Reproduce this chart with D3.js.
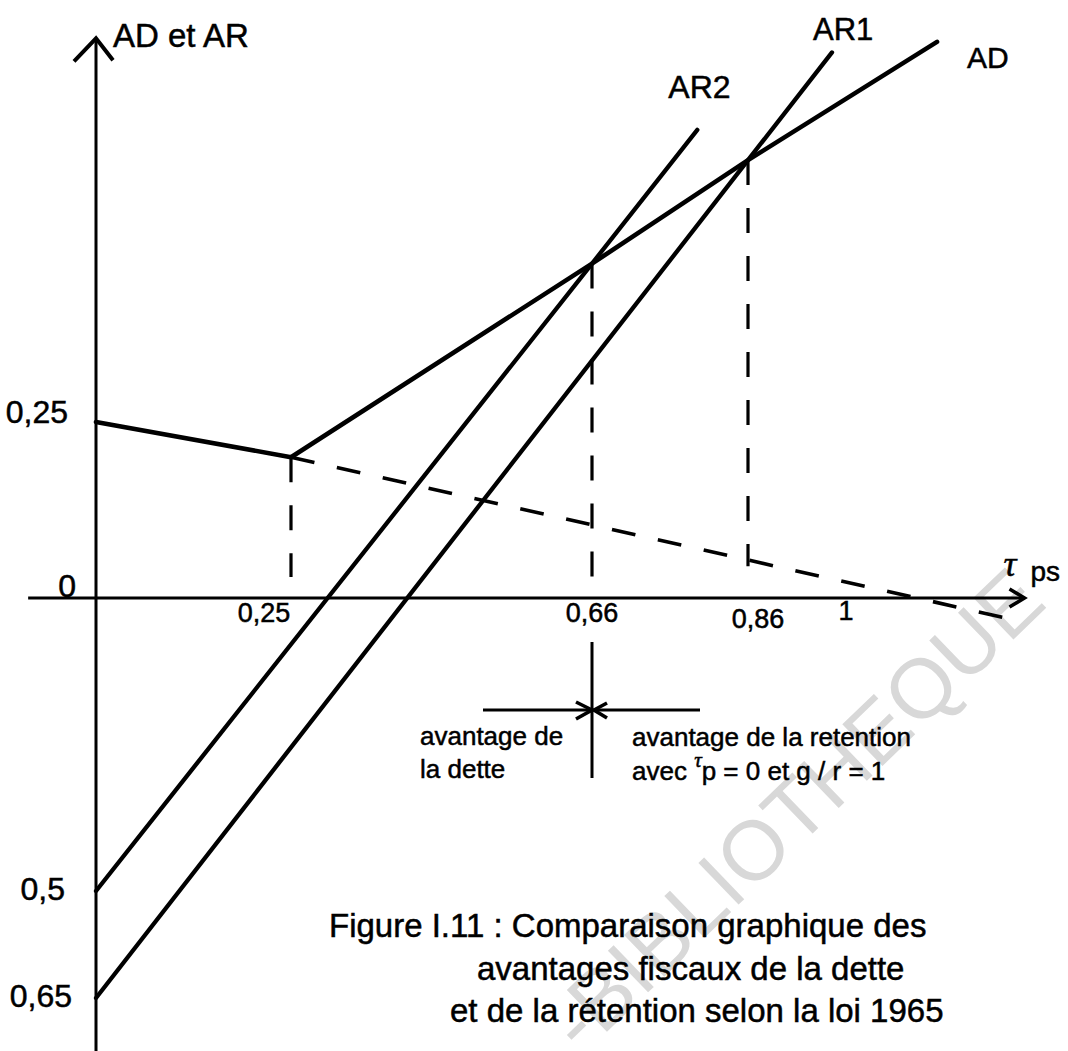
<!DOCTYPE html>
<html>
<head>
<meta charset="utf-8">
<script src="https://cdn.jsdelivr.net/npm/d3@7"></script>
<style>
  html, body { margin: 0; padding: 0; background: #fff; }
  svg { display: block; }
  text { font-family: "Liberation Sans", Arial, Helvetica, sans-serif; fill: #000; stroke: #000; stroke-width: 0.5px; }
  text.stamp { stroke: none; }
  .serif { font-family: "Liberation Serif", "DejaVu Serif", serif; font-style: italic; }
</style>
</head>
<body>
<svg id="chart" width="1068" height="1051"></svg>
<script>
// τps break points and their printed labels
const xTickValues = [0.25, 0.66, 0.86, 1];
const xTickLabels = ["0,25", "0,66", "0,86", "1"];
// vertical axis marks (the two lower values are negative, printed without sign)
const yTickValues = [0.25, 0, -0.5, -0.65];
const yTickLabels = ["0,25", "0", "0,5", "0,65"];

// AD : avantage de la dette (kinked at τps = 0,25)
const adX = [0, 0.25, 0.66, 0.86, 1.13];
const adY = [0.25, 0.2, 0.475, 0.622, 0.79];
// first AD segment prolonged beyond the kink (dashed)
const adExtX = [0.25, 1.25];
const adExtY = [0.2, -0.04];
// AR2 : avantage de la rétention, second case
const ar2X = [0, 0.66, 0.795];
const ar2Y = [-0.5, 0.475, 0.665];
// AR1 : avantage de la rétention, first case
const ar1X = [0, 0.86, 0.98];
const ar1Y = [-0.65, 0.622, 0.775];

// vertical guides dropped from AD toward the τps axis
const guideX = [0.25, 0.66, 0.86];
const guideBottom = [0.03, 0.03, 0.045];

// axis extents
const xAxisExtent = [-0.087, 1.255];
const yAxisExtent = [-0.73, 0.795];

const svg = d3.select("#chart");

// piecewise scales: the drawing is not to scale, each marked value has its own place
const x = d3.scaleLinear().domain([0, 0.25, 0.66, 0.86, 1]).range([96, 291, 592, 748, 846]);
const y = d3.scaleLinear().domain([-0.65, -0.5, 0, 0.25]).range([998, 891, 598, 422]);

const zip = (xs, ys) => xs.map((v, i) => [v, ys[i]]);
const line = d3.line().x(d => x(d[0])).y(d => y(d[1]));

// faint library stamp behind the figure
svg.append("text")
  .attr("class", "stamp")
  .attr("transform", "translate(582,1056) rotate(-44)")
  .attr("font-size", 84)
  .style("fill", "#d8d8d8")
  .text("-BIBLIOTHEQUE");

// ---- axes ----
const axes = svg.append("g").attr("stroke", "#000").attr("fill", "none").attr("stroke-width", 3);
const x0 = x(0), y0 = y(0);
axes.append("line")
  .attr("x1", x0).attr("x2", x0)
  .attr("y1", y(yAxisExtent[1])).attr("y2", y(yAxisExtent[0]));
axes.append("line")
  .attr("x1", x(xAxisExtent[0])).attr("x2", x(xAxisExtent[1]))
  .attr("y1", y0).attr("y2", y0);
// arrow heads
const yt = y(yAxisExtent[1]);
axes.append("path")
  .attr("stroke-width", 4).attr("stroke-linejoin", "miter")
  .attr("d", `M${x0 - 22},${yt + 23} L${x0},${yt} L${x0 + 17},${yt + 22}`);
const xt = x(xAxisExtent[1]);
axes.append("path")
  .attr("stroke-width", 3.5)
  .attr("d", `M${xt - 15},${y0 - 9} L${xt},${y0} L${xt - 15},${y0 + 9}`);

// ---- dashed guides ----
const dashes = svg.append("g").attr("stroke", "#000").attr("fill", "none")
  .attr("stroke-width", 3.2).attr("stroke-dasharray", "25,23");
guideX.forEach((gx, i) => {
  const top = adY[adX.indexOf(gx)];
  dashes.append("line")
    .attr("x1", x(gx)).attr("x2", x(gx))
    .attr("y1", y(top)).attr("y2", y(guideBottom[i]));
});
dashes.append("path")
  .attr("stroke-width", 3.6).attr("stroke-dasharray", "24,23")
  .attr("d", line(zip(adExtX, adExtY)));

// ---- curves ----
const curves = svg.append("g").attr("fill", "none").attr("stroke", "#000")
  .attr("stroke-linecap", "round").attr("stroke-linejoin", "round");
curves.append("path").attr("stroke-width", 4.6).attr("d", line(zip(adX, adY)));
curves.append("path").attr("stroke-width", 4.3).attr("d", line(zip(ar2X, ar2Y)));
curves.append("path").attr("stroke-width", 4.3).attr("d", line(zip(ar1X, ar1Y)));

// ---- series labels near the upper ends ----
const ends = [
  { name: "AD",  px: adX[adX.length - 1],  py: adY[adY.length - 1],  dx: 30,  dy: 26,  fs: 30 },
  { name: "AR1", px: ar1X[ar1X.length - 1], py: ar1Y[ar1Y.length - 1], dx: -19, dy: -12, fs: 31 },
  { name: "AR2", px: ar2X[ar2X.length - 1], py: ar2Y[ar2Y.length - 1], dx: -29, dy: -32, fs: 32 }
];
svg.append("g").selectAll("text").data(ends).join("text")
  .attr("x", d => x(d.px) + d.dx)
  .attr("y", d => y(d.py) + d.dy)
  .attr("font-size", d => d.fs)
  .text(d => d.name);

// axis titles
svg.append("text").attr("x", x0 + 17).attr("y", 47).attr("font-size", 33).text("AD et AR");
svg.append("text").attr("class", "serif").attr("x", xt - 21).attr("y", y0 - 22)
  .attr("font-size", 36).text("τ");
svg.append("text").attr("x", xt + 6).attr("y", y0 - 17).attr("font-size", 28).text("ps");

// ---- tick labels ----
const xLabelShift = [-27, 0, 10, 0];
const xLabelBase = [24, 24, 30, 22];
svg.append("g").selectAll("text").data(xTickValues).join("text")
  .attr("x", (d, i) => x(d) + xLabelShift[i])
  .attr("y", (d, i) => y0 + xLabelBase[i])
  .attr("text-anchor", "middle")
  .attr("font-size", 27)
  .text((d, i) => xTickLabels[i]);

const yLabelRight = [68, 76, 65, 72];
const yLabelBase = [1, -1, 9, 9];
svg.append("g").selectAll("text").data(yTickValues).join("text")
  .attr("x", (d, i) => yLabelRight[i])
  .attr("y", (d, i) => y(d) + yLabelBase[i])
  .attr("text-anchor", "end")
  .attr("font-size", 32)
  .text((d, i) => yTickLabels[i]);

// ---- threshold annotation under τps = 0,66 ----
const cx = x(0.66), cy = 710;
const ann = svg.append("g").attr("stroke", "#000").attr("fill", "none").attr("stroke-width", 3);
ann.append("line").attr("x1", cx).attr("x2", cx).attr("y1", 642).attr("y2", 778);
ann.append("line").attr("x1", cx - 109).attr("x2", cx + 108).attr("y1", cy).attr("y2", cy);
ann.append("path").attr("stroke-width", 3.6)
  .attr("d", `M${cx - 16},${cy - 8} L${cx},${cy} L${cx - 16},${cy + 9}`);
ann.append("path").attr("stroke-width", 3.6)
  .attr("d", `M${cx + 15},${cy - 7} L${cx + 2},${cy} L${cx + 15},${cy + 8}`);

const note = svg.append("g").attr("font-size", 26);
note.append("text").attr("x", cx - 172).attr("y", 745).text("avantage de");
note.append("text").attr("x", cx - 172).attr("y", 778).text("la dette");
note.append("text").attr("x", cx + 40).attr("y", 746).text("avantage de la retention");
const l2 = note.append("text").attr("x", cx + 40).attr("y", 780);
l2.append("tspan").text("avec ");
l2.append("tspan").attr("class", "serif").attr("font-size", 21).attr("dy", -13).text("τ");
l2.append("tspan").attr("dy", 13).text("p = 0 et g / r = 1");

// ---- caption ----
const cap = svg.append("g").attr("font-size", 33);
cap.append("text").attr("x", 329).attr("y", 937).text("Figure I.11 : Comparaison graphique des");
cap.append("text").attr("x", 477).attr("y", 980).text("avantages fiscaux de la dette");
cap.append("text").attr("x", 450).attr("y", 1022).text("et de la rétention selon la loi 1965");
</script>
</body>
</html>
